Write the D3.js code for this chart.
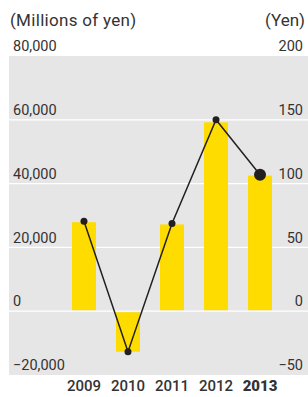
<!DOCTYPE html>
<html>
<head>
<meta charset="utf-8">
<script src="https://cdn.jsdelivr.net/npm/d3@7"></script>
<style>
  body { margin: 0; background: #fff; }
  text { font-family: Roboto, "Noto Sans", sans-serif; fill: #333; }
</style>
</head>
<body>
<div class="chart"></div>
<script>
var years = ["2009", "2010", "2011", "2012", "2013"];
var income = [27900, -12700, 27200, 59200, 42500];   // millions of yen (bars)
var perShare = [70.5, -31.8, 68.8, 150, 107];        // yen (line)
var leftTicks = [-20000, 0, 20000, 40000, 60000, 80000];
var rightTicks = [-50, 0, 50, 100, 150, 200];

var svgWidth = 308, svgHeight = 397;
var plot = { left: 9, right: 308, top: 56, bottom: 375 };

var svg = d3.select(".chart")
    .append("svg")
    .attr("width", svgWidth)
    .attr("height", svgHeight);

var x = d3.scaleBand()
    .domain(years)
    .range([62, 282])
    .paddingInner(0.455)
    .paddingOuter(0.227);

var yLeft = d3.scaleLinear().domain([-20000, 80000]).range([plot.bottom, plot.top]);
var yRight = d3.scaleLinear().domain([-50, 200]).range([plot.bottom, plot.top]);

// background panel
svg.append("rect")
    .attr("x", plot.left)
    .attr("y", plot.top)
    .attr("width", plot.right - plot.left)
    .attr("height", plot.bottom - plot.top)
    .attr("fill", "#e6e6e6");

// white gridlines
svg.selectAll(".grid")
    .data(leftTicks.filter(d => d > -20000 && d < 80000))
    .enter()
    .append("line")
    .attr("x1", plot.left)
    .attr("x2", plot.right)
    .attr("y1", d => yLeft(d))
    .attr("y2", d => yLeft(d))
    .attr("stroke", "#fff")
    .attr("stroke-width", 1.2);

// bars
svg.selectAll(".bar")
    .data(income)
    .enter()
    .append("rect")
    .attr("x", (d, i) => x(years[i]))
    .attr("width", x.bandwidth())
    .attr("y", d => Math.min(yLeft(d), yLeft(0) + 1))
    .attr("height", d => Math.abs(yLeft(d) - yLeft(0)) - 1)
    .attr("fill", "#ffdc00");

// line
var line = d3.line()
    .x((d, i) => x(years[i]) + x.bandwidth() / 2)
    .y(d => yRight(d));

svg.append("path")
    .datum(perShare)
    .attr("d", line)
    .attr("fill", "none")
    .attr("stroke", "#231f20")
    .attr("stroke-width", 1.5);

svg.selectAll(".dot")
    .data(perShare)
    .enter()
    .append("circle")
    .attr("cx", (d, i) => x(years[i]) + x.bandwidth() / 2)
    .attr("cy", d => yRight(d))
    .attr("r", (d, i) => i === years.length - 1 ? 6 : 3.5)
    .attr("fill", "#231f20");

// axis labels (left)
var leftAxis = d3.axisLeft(yLeft).tickValues(leftTicks).tickSize(0).tickFormat(d3.format(","));
var gL = svg.append("g")
    .attr("transform", "translate(13,-10)")
    .call(leftAxis);
gL.select(".domain").remove();
gL.selectAll("text")
    .attr("x", 0)
    .attr("text-anchor", "start")
    .style("font-size", "14.5px")
    .style("font-family", "Roboto, sans-serif")
    .attr("fill", "#333");

// axis labels (right)
var rightAxis = d3.axisRight(yRight).tickValues(rightTicks).tickSize(0);
var gR = svg.append("g")
    .attr("transform", "translate(303,-10)")
    .call(rightAxis);
gR.select(".domain").remove();
gR.selectAll("text")
    .attr("x", 0)
    .attr("text-anchor", "end")
    .style("font-size", "14.5px")
    .style("font-family", "Roboto, sans-serif")
    .attr("fill", "#333");

// x labels
var bottomAxis = d3.axisBottom(x).tickSize(0);
var gB = svg.append("g")
    .attr("transform", "translate(0,377)")
    .call(bottomAxis);
gB.select(".domain").remove();
gB.selectAll("text")
    .style("font-size", "15px")
    .style("font-family", "Roboto, sans-serif")
    .style("font-weight", (d, i) => i === years.length - 1 ? "900" : "500")
    .attr("fill", "#333");

// unit titles
svg.append("text")
    .attr("x", 10)
    .attr("y", 26)
    .style("font-size", "17px")
    .style("letter-spacing", "0.3px")
    .text("(Millions of yen)");

svg.append("text")
    .attr("x", 305)
    .attr("y", 26)
    .attr("text-anchor", "end")
    .style("font-size", "17px")
    .text("(Yen)");
</script>
</body>
</html>
